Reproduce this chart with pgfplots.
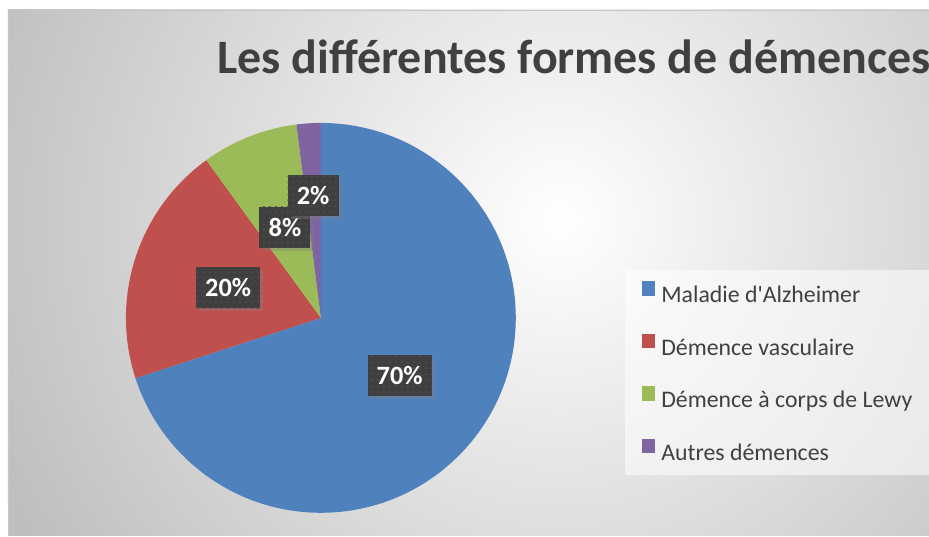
\documentclass[border=0pt]{standalone}
\usepackage{pgfplots}
\pgfplotsset{compat=1.18}
\usepackage{pgfplotstable}
\usetikzlibrary{patterns,shadows}
\usepackage{fontspec}
\setmainfont{Carlito}[Ligatures=TeXOff]

\definecolor{slice0}{HTML}{4F81BD}
\definecolor{slice1}{HTML}{C0504D}
\definecolor{slice2}{HTML}{9BBB59}
\definecolor{slice3}{HTML}{8064A2}
\definecolor{titlegray}{HTML}{404040}
\definecolor{lblgray}{HTML}{3F3F3F}
\definecolor{bgouter}{HTML}{BEBEBE}

% share (%), label distance (fraction of radius), name
\pgfplotstableread[col sep=semicolon]{
share;lpos;name
70;0.5;Maladie d'Alzheimer
20;0.5;Démence vasculaire
8;0.5;Démence à corps de Lewy
2;0.63;Autres démences
}\pietable

\tikzset{lbl/.style={fill=lblgray, text=white, font=\bfseries\fontsize{13.2}{15}\selectfont,
  minimum height=20.5pt, inner xsep=4.6pt, inner ysep=0pt,
  drop shadow={shadow xshift=1.5pt, shadow yshift=-1.5pt, opacity=0.35},
  postaction={pattern=dots, pattern color=white!10!lblgray}}}

\begin{document}
\begin{tikzpicture}
\begin{axis}[
    x=0.5pt, y=0.5pt,
    xmin=0, xmax=929, ymin=0, ymax=536,
    hide axis, clip=false,
    legend style={at={(axis cs:642,255)}, anchor=north west, draw=none, fill=none,
      font=\fontsize{11.9}{14}\selectfont, text=titlegray,
      row sep=14pt, column sep=3pt, inner sep=0pt, nodes={inner sep=0pt}},
    legend cell align=left,
    legend image code/.code={\fill[#1, draw=none] (0pt,0.2pt) rectangle (6.6pt,7.4pt);},
]
% background
\fill[white] (axis cs:0,0) rectangle (axis cs:929,536);
\begin{scope}
\clip (axis cs:8,0) rectangle (axis cs:929,526);
\fill[bgouter] (axis cs:8,0) rectangle (axis cs:929,526);
\shade[inner color=white, outer color=bgouter] (axis cs:560,316) circle[radius=310pt];
\end{scope}
\draw[gray!45] (axis cs:8,0) -- (axis cs:8,526) -- (axis cs:929,526);
\fill[white, opacity=0.55] (axis cs:625,61) rectangle (axis cs:929,266);

\node[overlay, anchor=base west, inner sep=0pt, text=titlegray, font=\bfseries\fontsize{24}{28}\selectfont]
  at (axis cs:217,462) {Les différentes formes de démences};

% slices, clockwise from the top
\def\startang{90}
\pgfplotsforeachungrouped \i in {0,...,3}{
  \pgfplotstablegetelem{\i}{share}\of\pietable
  \let\share\pgfplotsretval
  \pgfplotstablegetelem{\i}{name}\of\pietable
  \let\sname\pgfplotsretval
  \pgfmathsetmacro\endang{\startang-3.6*\share}
  \edef\temp{%
    \noexpand\fill[slice\i] (axis cs:321,218) -- ++(\startang:97.5pt)
      arc[start angle=\startang, end angle=\endang, radius=97.5pt] -- cycle;
    \noexpand\addlegendimage{fill=slice\i}
    \noexpand\addlegendentry{\sname}
  }\temp
  \global\let\startang\endang
}
% data labels on top
\def\startang{90}
\pgfplotsforeachungrouped \i in {0,...,3}{
  \pgfplotstablegetelem{\i}{share}\of\pietable
  \let\share\pgfplotsretval
  \pgfplotstablegetelem{\i}{lpos}\of\pietable
  \let\lpos\pgfplotsretval
  \pgfmathsetmacro\endang{\startang-3.6*\share}
  \pgfmathsetmacro\midang{(\startang+\endang)/2}
  \pgfmathsetmacro\lr{97.5*\lpos}
  \edef\temp{%
    \noexpand\node[lbl] at ([shift={(\midang:\lr pt)}]axis cs:321,218) {\share\noexpand\%};
  }\temp
  \global\let\startang\endang
}
\end{axis}
\end{tikzpicture}
\end{document}
